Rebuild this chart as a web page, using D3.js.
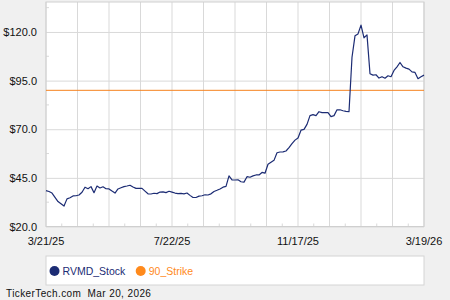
<!DOCTYPE html>
<html>
<head>
<meta charset="utf-8">
<script src="https://cdn.jsdelivr.net/npm/d3@7"></script>
<style>
  body { margin: 0; background: #f0f0f0; }
  #chart { width: 450px; height: 300px; }
  text { font-family: "Liberation Sans", Arial, sans-serif; }
</style>
</head>
<body>
<div id="chart"></div>
<script>
// stock closes, one point every ~2 trading days, 3/21/25 .. 3/19/26
var stockValues = [
  38.4, 38.0, 37.2, 35.0, 32.8, 31.7, 30.5, 34.2, 34.8, 35.7,
  35.8, 36.2, 37.6, 40.2, 39.4, 40.5, 37.4, 40.8, 39.8, 40.4,
  39.4, 39.3, 38.2, 37.2, 39.3, 39.9, 40.5, 40.8, 41.2, 40.3,
  39.6, 39.6, 39.6, 38.2, 36.8, 36.7, 37.1, 36.9, 37.7, 37.8,
  37.4, 38.1, 37.7, 37.2, 36.9, 37.0, 36.8, 37.2, 36.0, 34.9,
  34.9, 35.6, 35.8, 36.3, 36.2, 36.8, 38.0, 38.6, 39.3, 40.2,
  40.6, 46.0, 44.0, 43.9, 44.0, 43.0, 42.8, 45.6, 45.3, 46.0,
  46.5, 46.5, 47.8, 47.4, 52.0, 53.0, 54.0, 57.9, 58.3, 58.4,
  58.8, 60.5, 62.6, 64.4, 65.5, 69.5, 69.9, 72.5, 77.0, 77.5,
  77.0, 79.0, 78.5, 78.5, 78.5, 76.5, 77.0, 80.0, 80.0, 79.5,
  79.2, 79.0, 107.0, 118.0, 119.0, 123.5, 117.0, 118.5, 98.5, 97.8,
  98.0, 96.3, 97.0, 96.2, 97.5, 97.0, 100.2, 102.1, 104.3, 102.1,
  101.4, 100.9, 99.5, 99.2, 96.0, 97.0, 97.8
];
var strikeValue = 90;
var xTickLabels = ["3/21/25", "7/22/25", "11/17/25", "3/19/26"];
var yTickValues = [20, 45, 70, 95, 120];
var seriesNames = ["RVMD_Stock", "90_Strike"];

var margin = {top: 2, right: 26, bottom: 73.5, left: 46},
    width = 450 - margin.left - margin.right,
    height = 300 - margin.top - margin.bottom;

var navy = "#1c2c74", orange = "#f5821f", gridColor = "#d9d9d9";

var svg = d3.select("#chart")
  .append("svg")
    .attr("width", 450)
    .attr("height", 300)
  .append("g")
    .attr("transform", "translate(" + margin.left + "," + margin.top + ")");

var x = d3.scaleLinear()
  .domain([0, stockValues.length - 1])
  .range([0, width]);

var y = d3.scaleLinear()
  .domain([20, 135.4])
  .range([height, 0]);

// plot background
svg.append("rect")
  .attr("width", width)
  .attr("height", height)
  .attr("fill", "#fff");

// vertical grid, 12 intervals
var xGrid = d3.range(0, 13).map(function(i){ return i * (stockValues.length - 1) / 12; });
svg.append("g")
  .selectAll("line")
  .data(xGrid)
  .enter().append("line")
    .attr("x1", function(d){ return x(d); })
    .attr("x2", function(d){ return x(d); })
    .attr("y1", 0)
    .attr("y2", height)
    .attr("stroke", gridColor)
    .attr("stroke-width", 1);

// minor x ticks between gridlines
svg.append("g")
  .selectAll("line")
  .data(xGrid.slice(0, 12))
  .enter().append("line")
    .attr("x1", function(d){ return x(d + (stockValues.length - 1) / 24); })
    .attr("x2", function(d){ return x(d + (stockValues.length - 1) / 24); })
    .attr("y1", height)
    .attr("y2", height - 3)
    .attr("stroke", gridColor);

// horizontal grid
var yAxis = svg.append("g")
  .call(d3.axisLeft(y).tickValues(yTickValues).tickSize(-width).tickFormat(function(d){ return "$" + d.toFixed(1); }));
yAxis.select(".domain").remove();
yAxis.selectAll(".tick line").attr("stroke", gridColor);
yAxis.selectAll(".tick text")
  .attr("x", -9)
  .attr("font-size", 11)
  .attr("fill", "#111")
  .style("font-family", "Liberation Sans, Arial, sans-serif");

// minor y ticks
svg.append("g")
  .selectAll("line")
  .data([32.5, 57.5, 82.5, 107.5, 132.5])
  .enter().append("line")
    .attr("x1", 0)
    .attr("x2", 3)
    .attr("y1", function(d){ return y(d); })
    .attr("y2", function(d){ return y(d); })
    .attr("stroke", gridColor);

// plot frame
svg.append("rect")
  .attr("width", width)
  .attr("height", height)
  .attr("fill", "none")
  .attr("stroke", "#cfcfcf");

// x labels
var xLab = d3.scalePoint().domain(xTickLabels).range([0, width]);
svg.append("g")
  .selectAll("text")
  .data(xTickLabels)
  .enter().append("text")
    .attr("x", function(d){ return xLab(d); })
    .attr("y", height + 18.5)
    .attr("text-anchor", "middle")
    .attr("font-size", 11)
    .attr("fill", "#111")
    .text(function(d){ return d; });

// strike line
svg.append("line")
  .attr("x1", 0)
  .attr("x2", width)
  .attr("y1", y(strikeValue))
  .attr("y2", y(strikeValue))
  .attr("stroke", orange)
  .attr("stroke-width", 1);

// stock line
var line = d3.line()
  .x(function(d, i){ return x(i); })
  .y(function(d){ return y(d); });

svg.append("path")
  .datum(stockValues)
  .attr("d", line)
  .attr("fill", "none")
  .attr("stroke", navy)
  .attr("stroke-width", 1.2)
  .attr("stroke-linejoin", "round");

// legend
var legend = svg.append("g")
  .attr("transform", "translate(0," + (height + 29.5) + ")");
legend.append("rect")
  .attr("width", width)
  .attr("height", 29)
  .attr("fill", "#fff")
  .attr("stroke", "#d4d4d4");

var legendColors = [navy, "#ff8a1c"];
var legendX = [8.5, 94.7];
var items = legend.selectAll("g.item")
  .data(seriesNames)
  .enter().append("g")
    .attr("class", "item")
    .attr("transform", function(d, i){ return "translate(" + legendX[i] + ",15)"; });
items.append("circle")
  .attr("r", 5)
  .attr("fill", function(d, i){ return legendColors[i]; });
items.append("text")
  .attr("x", 8)
  .attr("y", 4)
  .attr("font-size", 10.5)
  .attr("fill", function(d, i){ return legendColors[i]; })
  .text(function(d){ return d; });

// footer
d3.select("#chart svg").append("text")
  .attr("x", 6)
  .attr("y", 297)
  .attr("font-size", 10)
  .attr("fill", "#111")
  .attr("letter-spacing", 0.4)
  .attr("xml:space", "preserve")
  .style("white-space", "pre")
  .text("TickerTech.com  Mar 20, 2026");
</script>
</body>
</html>
